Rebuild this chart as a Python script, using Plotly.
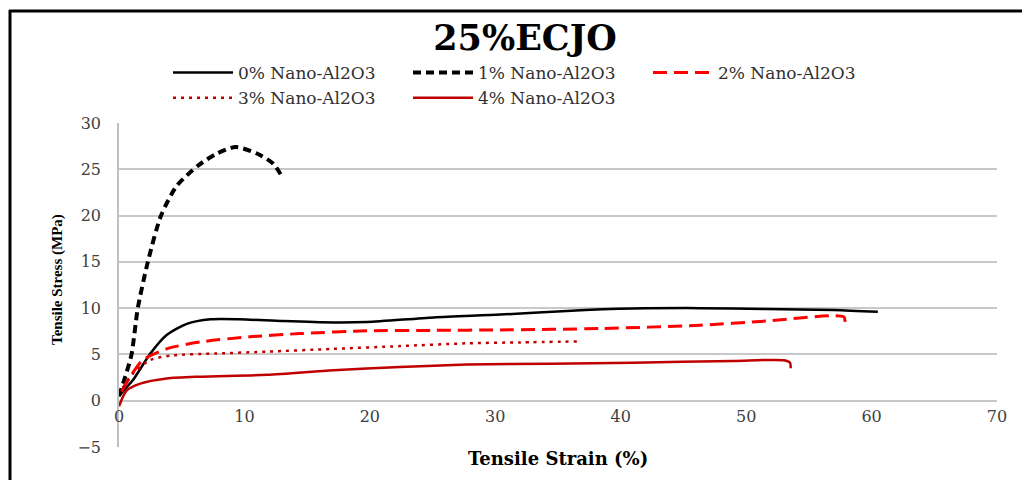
import plotly.graph_objects as go

# ---- data ----
strain_0 = [0.0, 0.5, 1.1, 2.5, 3.8, 5.4, 7.3, 9.6, 13.1, 17.1, 19.8, 25.1, 30.4, 35.7, 41.0, 46.3, 51.6, 57.0, 60.5]
stress_0 = [0.5, 1.3, 2.2, 5.1, 7.1, 8.3, 8.8, 8.8, 8.6, 8.45, 8.5, 9.0, 9.3, 9.7, 9.95, 10.0, 9.9, 9.8, 9.6]

strain_1 = [0.0, 0.5, 1.0, 1.5, 2.3, 3.35, 4.6, 6.3, 7.8, 9.3, 11.0, 12.3, 13.0]
stress_1 = [0.5, 2.6, 5.0, 10.0, 15.0, 20.0, 23.2, 25.4, 26.7, 27.4, 26.7, 25.6, 24.2]

strain_2 = [0.2, 0.9, 1.9, 3.8, 6.5, 10.4, 14.4, 19.8, 25.1, 30.4, 38.4, 46.3, 51.6, 57.8, 57.85]
stress_2 = [1.0, 2.6, 4.4, 5.6, 6.35, 6.9, 7.25, 7.55, 7.6, 7.65, 7.8, 8.15, 8.6, 9.05, 8.2]

strain_3 = [0.3, 1.1, 2.5, 4.3, 7.8, 11.8, 17.1, 22.4, 27.7, 32.0, 36.5]
stress_3 = [1.4, 2.9, 4.4, 4.9, 5.1, 5.3, 5.6, 5.9, 6.2, 6.3, 6.4]

strain_4 = [0.0, 0.6, 1.7, 3.8, 6.5, 11.8, 17.1, 22.4, 27.7, 34.4, 41.0, 49.0, 53.0, 53.5, 53.55]
stress_4 = [-0.6, 1.1, 1.85, 2.4, 2.6, 2.8, 3.3, 3.65, 3.9, 4.0, 4.1, 4.3, 4.37, 4.1, 3.5]

series_names = ["0% Nano-Al2O3", "1% Nano-Al2O3", "2% Nano-Al2O3", "3% Nano-Al2O3", "4% Nano-Al2O3"]
x_ticks = [0, 10, 20, 30, 40, 50, 60, 70]
y_ticks = [-5, 0, 5, 10, 15, 20, 25, 30]

styles = [
    dict(color="#000000", width=2.5, dash="solid"),
    dict(color="#000000", width=4, dash="8px,5px"),
    dict(color="#FF0000", width=3, dash="14px,7px"),
    dict(color="#C00000", width=2.5, dash="3px,5px"),
    dict(color="#C00000", width=2.5, dash="solid"),
]

data = [(strain_0, stress_0), (strain_1, stress_1), (strain_2, stress_2),
        (strain_3, stress_3), (strain_4, stress_4)]

fig = go.Figure()
for (xs, ys), name, st in zip(data, series_names, styles):
    fig.add_trace(go.Scatter(
        x=xs, y=ys, name=name, mode="lines",
        line=dict(color=st["color"], width=st["width"], dash=st["dash"],
                  shape="spline", smoothing=0.7),
    ))

tick_font = dict(family="DejaVu Serif", size=16, color="#404040")

fig.update_layout(
    width=1030, height=480,
    margin=dict(l=111, r=41, t=115, b=41, autoexpand=False),
    paper_bgcolor="white", plot_bgcolor="white",
    title=dict(text="<b>25%ECJO</b>", xref="container", yref="container",
               x=517 / 1030, y=1 - 30 / 480, xanchor="center", yanchor="middle",
               font=dict(family="DejaVu Serif", size=35, color="#000000")),
    showlegend=True,
    legend=dict(orientation="h", xref="container", yref="container",
                x=160 / 1030, y=1 - 47 / 480, xanchor="left", yanchor="top",
                entrywidth=165, itemwidth=60, tracegroupgap=0,
                font=dict(family="DejaVu Serif", size=17, color="#303030"),
                bgcolor="rgba(0,0,0,0)"),
    xaxis=dict(range=[0, 70], tickvals=x_ticks, showgrid=False, zeroline=False,
               anchor="free", position=5 / 35, showline=False, ticks="",
               tickfont=tick_font, ticklabelstandoff=4, fixedrange=True),
    yaxis=dict(range=[-5, 30], tickvals=y_ticks, showgrid=True, gridcolor="#C8C8C8",
               gridwidth=1.5, zeroline=False, showline=True, linecolor="#C0C0C0",
               linewidth=1.5, ticks="", tickfont=tick_font, ticklabelstandoff=13),
    annotations=[
        dict(text="<b>Tensile Strain (%)</b>", xref="paper", yref="paper",
             x=0.5, y=(447 - 458) / 324, xanchor="center", yanchor="middle",
             showarrow=False, font=dict(family="DejaVu Serif", size=18, color="#000000")),
        dict(text="<b>Tensile Stress (MPa)</b>", xref="paper", yref="paper",
             x=(57 - 119) / 878, y=(447 - 280) / 324, xanchor="center", yanchor="middle",
             textangle=-90, showarrow=False,
             font=dict(family="Liberation Serif", size=15, color="#000000")),
    ],
    shapes=[
        dict(type="line", xref="paper", yref="paper",
             x0=(10 - 119) / 878, x1=(10 - 119) / 878,
             y0=(447 - 10) / 324, y1=(447 - 482) / 324,
             line=dict(color="#000000", width=3)),
        dict(type="line", xref="paper", yref="paper",
             x0=(9 - 119) / 878, x1=(1032 - 119) / 878,
             y0=(447 - 11) / 324, y1=(447 - 11) / 324,
             line=dict(color="#000000", width=3)),
    ],
)

fig.write_html("out.html")
